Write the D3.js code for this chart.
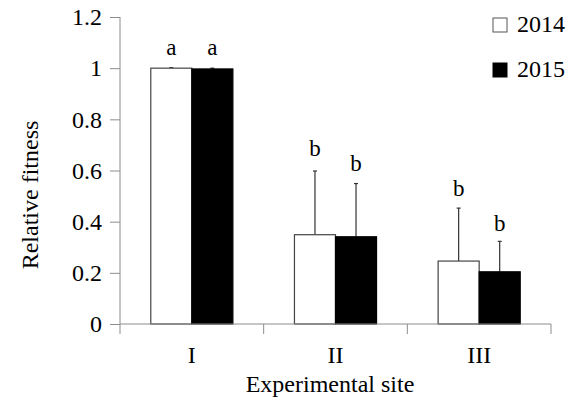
<!DOCTYPE html>
<html>
<head>
<meta charset="utf-8">
<script src="https://cdn.jsdelivr.net/npm/d3@7"></script>
<style>
  body { margin: 0; background: #fff; }
  text { font-family: "Liberation Serif", "Times New Roman", serif; fill: #000; }
</style>
</head>
<body>
<svg id="chart" width="576" height="407"></svg>
<script>
var sites = ["I", "II", "III"];
var years = ["2014", "2015"];
var fitness2014 = [1.0, 0.349, 0.246];
var fitness2015 = [0.997, 0.341, 0.204];
var errTop2014 = [1.002, 0.598, 0.453];
var errTop2015 = [1.0, 0.549, 0.323];
var letters2014 = ["a", "b", "b"];
var letters2015 = ["a", "b", "b"];
var letterPos2014 = [1.05, 0.656, 0.50];
var letterPos2015 = [1.05, 0.60, 0.363];
var yTicks = [0, 0.2, 0.4, 0.6, 0.8, 1, 1.2];
var yTickLabels = ["0", "0.2", "0.4", "0.6", "0.8", "1", "1.2"];

var svg = d3.select("#chart");
var fill = { "2014": "#fff", "2015": "#000" };
var axisColor = "#8c8c8c";

var x = d3.scaleBand().domain(sites).range([120, 551]).paddingInner(0).paddingOuter(0);
var x1 = d3.scaleBand().domain(years).range([0, x.bandwidth()]).paddingInner(0).paddingOuter(0.75);
var y = d3.scaleLinear().domain([0, 1.2]).range([324, 17]);

var rows = [];
sites.forEach(function(s, i){
    rows.push({ site: s, year: "2014", v: fitness2014[i], e: errTop2014[i], l: letters2014[i], lp: letterPos2014[i] });
    rows.push({ site: s, year: "2015", v: fitness2015[i], e: errTop2015[i], l: letters2015[i], lp: letterPos2015[i] });
});

// y axis
var yAxis = svg.append("g")
    .attr("transform", "translate(120,0)")
    .call(d3.axisLeft(y).tickValues(yTicks).tickSize(10).tickPadding(8)
        .tickFormat(function(d, i){ return yTickLabels[i]; }));
yAxis.select(".domain").attr("stroke", axisColor).attr("d", "M0," + y(1.2) + "V" + y(0));
yAxis.selectAll(".tick line").attr("stroke", axisColor);
yAxis.selectAll("text").style("font-size", "24px").style("font-family", "Liberation Serif").attr("fill", "#000");

// error bars (upper only)
var cx = function(d){ return x(d.site) + x1(d.year) + x1.bandwidth() / 2; };
svg.selectAll(".err")
    .data(rows)
    .enter().append("line")
        .attr("x1", cx).attr("x2", cx)
        .attr("y1", function(d){ return y(d.v); })
        .attr("y2", function(d){ return y(d.e); })
        .attr("stroke", "#333").attr("stroke-width", 1.2);
svg.selectAll(".cap")
    .data(rows)
    .enter().append("line")
        .attr("x1", function(d){ return cx(d) - 2; })
        .attr("x2", function(d){ return cx(d) + 2; })
        .attr("y1", function(d){ return y(d.e); })
        .attr("y2", function(d){ return y(d.e); })
        .attr("stroke", "#333").attr("stroke-width", 1.2);

// bars
svg.selectAll(".bar")
    .data(rows)
    .enter().append("rect")
        .attr("x", function(d){ return x(d.site) + x1(d.year); })
        .attr("y", function(d){ return y(d.v); })
        .attr("width", x1.bandwidth())
        .attr("height", function(d){ return y(0) - y(d.v); })
        .attr("fill", function(d){ return fill[d.year]; })
        .attr("stroke", function(d){ return d.year === "2014" ? "#444" : "#000"; })
        .attr("stroke-width", 1.2);

// significance letters
svg.selectAll(".letter")
    .data(rows)
    .enter().append("text")
        .attr("x", cx)
        .attr("y", function(d){ return y(d.lp); })
        .attr("text-anchor", "middle")
        .style("font-size", "23px")
        .text(function(d){ return d.l; });

// x axis
var xAxis = svg.append("g")
    .attr("transform", "translate(0,324)")
    .call(d3.axisBottom(x).tickSize(0).tickPadding(22));
xAxis.select(".domain").attr("stroke", axisColor).attr("d", "M120,0H551");
xAxis.selectAll("text").style("font-size", "24px").style("font-family", "Liberation Serif").attr("fill", "#000");
var bounds = sites.map(function(s){ return x(s); }).concat([x(sites[sites.length - 1]) + x.bandwidth()]);
svg.selectAll(".xtick")
    .data(bounds)
    .enter().append("line")
        .attr("x1", function(d){ return d; }).attr("x2", function(d){ return d; })
        .attr("y1", 324).attr("y2", 334)
        .attr("stroke", axisColor);

// axis titles
svg.append("text")
    .attr("x", 330).attr("y", 392)
    .attr("text-anchor", "middle")
    .style("font-size", "24px")
    .text("Experimental site");
svg.append("text")
    .attr("transform", "translate(38,195) rotate(-90)")
    .attr("text-anchor", "middle")
    .style("font-size", "24px")
    .text("Relative fitness");

// legend
var legend = svg.selectAll(".legend")
    .data(years)
    .enter().append("g")
        .attr("transform", function(d, i){ return "translate(493," + (18 + i * 45) + ")"; });
legend.append("rect")
    .attr("width", 14).attr("height", 14)
    .attr("fill", function(d){ return fill[d]; })
    .attr("stroke", function(d){ return d === "2014" ? "#555" : "#000"; });
legend.append("text")
    .attr("x", 24).attr("y", 14)
    .style("font-size", "24px")
    .text(function(d){ return d; });
</script>
</body>
</html>
